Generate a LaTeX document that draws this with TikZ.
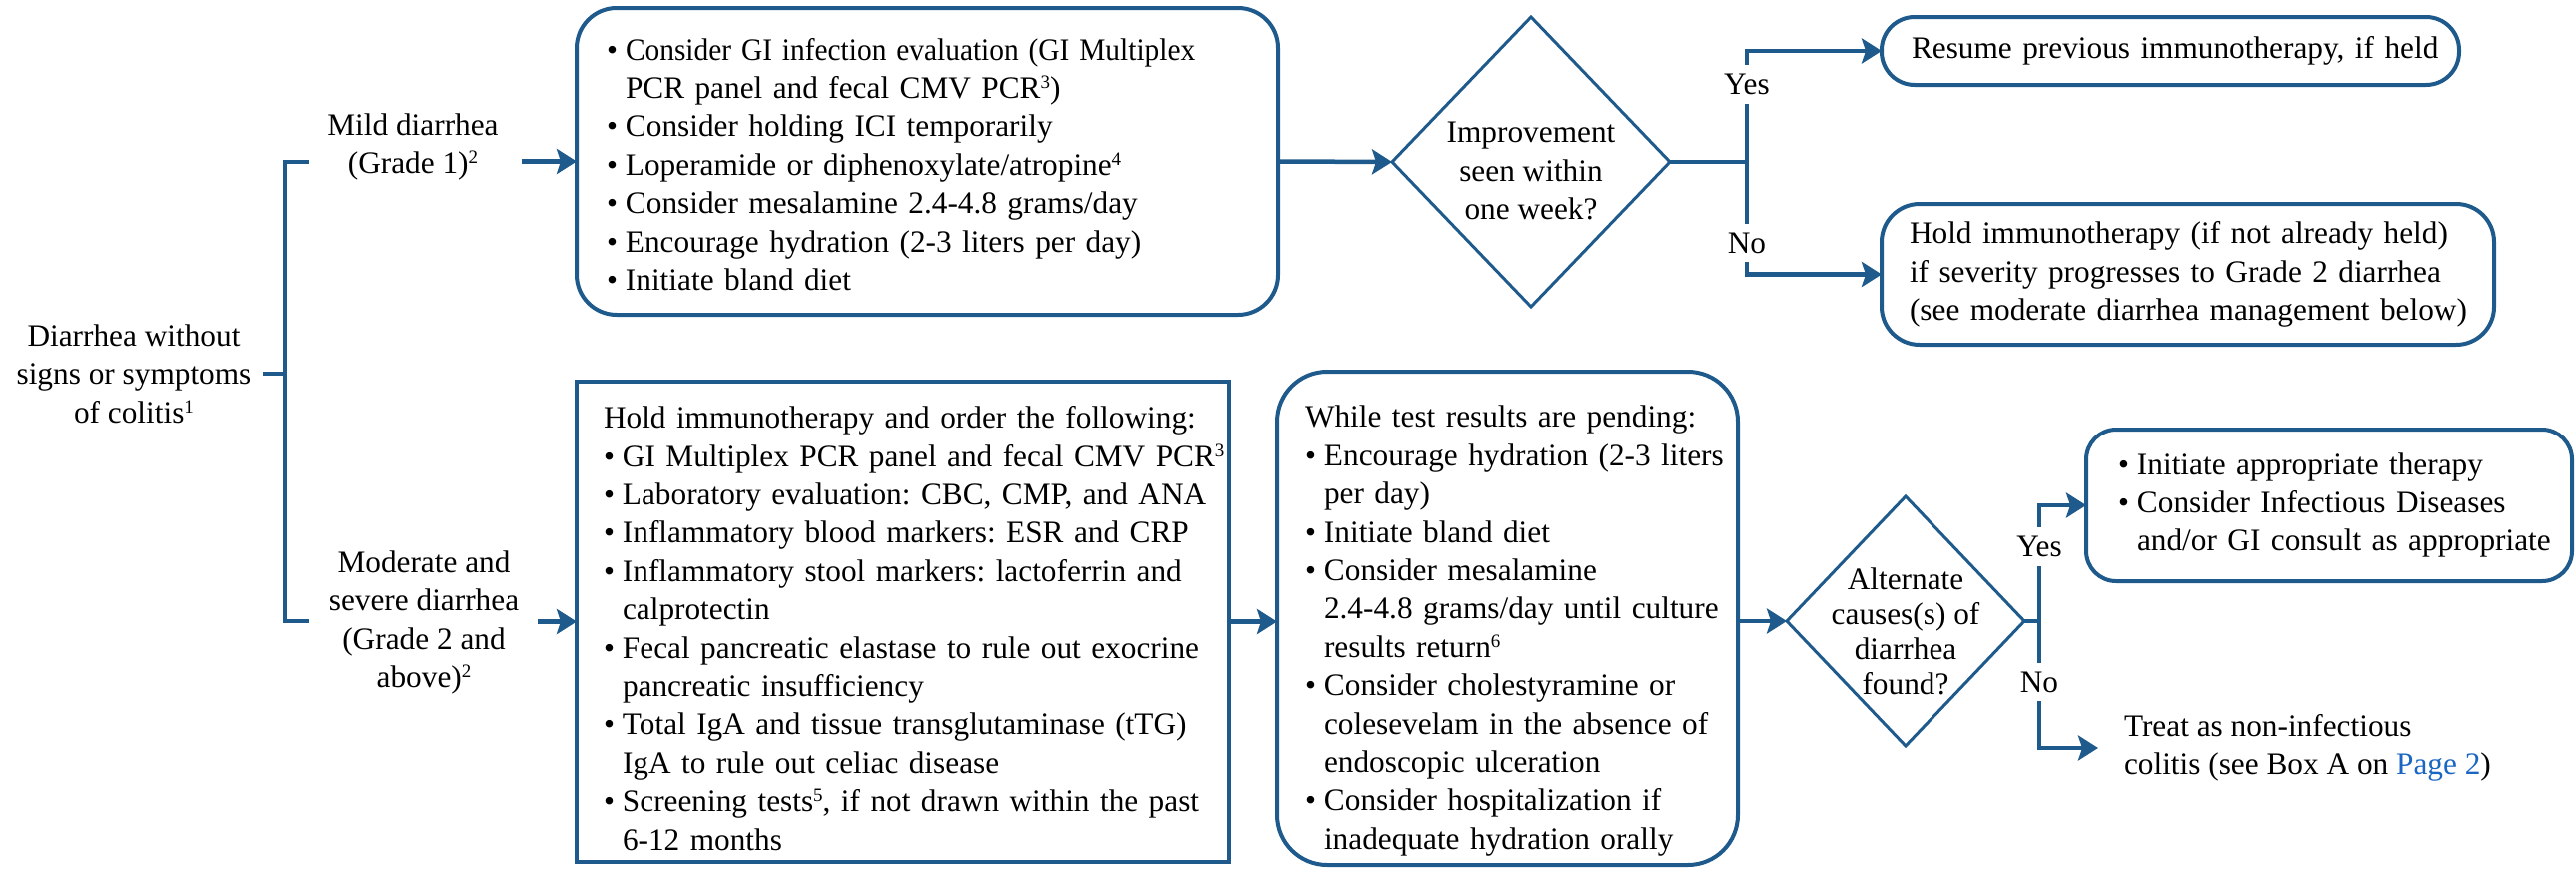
\documentclass[tikz,border=0pt]{standalone}
\usepackage{fontspec}
\setmainfont{Liberation Serif}
\usetikzlibrary{shapes.geometric,arrows.meta}
\setlength{\parindent}{0pt}
\frenchspacing
\definecolor{flowblue}{RGB}{31,90,140}
\definecolor{linkblue}{RGB}{25,103,194}
% bullet lines, continuation lines, plain lines and footnote marks
\newlength{\bulw}\setlength{\bulw}{19pt}
\newcommand{\bl}[1]{\mbox{\makebox[\bulw][l]{\textbullet}#1}}
\newcommand{\cl}[1]{\mbox{\hspace*{\bulw}#1}}
\newcommand{\pl}[1]{\mbox{#1}}
\newcommand{\fn}[1]{\raisebox{10pt}{\fontsize{19}{19}\selectfont #1}}
% extra room above the first line of a box
\newcommand{\tg}[1]{\rule{0pt}{#1}}
\begin{document}
\begin{tikzpicture}[x=1pt,y=-1pt,
  font=\fontsize{31.3}{38.4}\selectfont,
  box/.style={draw=flowblue, line width=4pt, align=left, anchor=north west,
    inner ysep=0pt, outer sep=0pt},
  dia/.style={diamond, draw=flowblue, line width=3pt, inner sep=0pt, outer sep=0pt},
  plain/.style={align=center, inner ysep=0pt, outer sep=0pt},
  conn/.style={draw=flowblue, line width=4.5pt},
  arr/.style={conn, -{Stealth[length=20pt,width=25pt,inset=4pt]}},
  yn/.style={fill=white, inner xsep=2pt, inner ysep=9pt}]
\useasboundingbox (0,0) rectangle (2578,870);

% ---- starting point and severity grades
\node[plain, inner xsep=12pt] (root) at (134,374)
  {Diarrhea without\\signs or symptoms\\of colitis\fn{1}};
\node[plain, inner xsep=23pt] (mildlbl) at (413,147)
  {Mild diarrhea\\(Grade 1)\fn{2}};
\node[plain, inner xsep=19pt] (modlbl) at (424,623.5)
  {Moderate and\\severe diarrhea\\(Grade 2 and\\above)\fn{2}};

% ---- mild branch
\node[box, rounded corners=40pt, inner xsep=30pt, text width=642pt,
  minimum height=307pt] (mild) at (577,8) {%
  \bl{\tg{28pt}\scalebox{0.94}[1]{Consider GI infection evaluation (GI Multiplex}}\\
  \cl{PCR panel and fecal CMV PCR\fn{3})}\\
  \bl{Consider holding ICI temporarily}\\
  \bl{Loperamide or diphenoxylate/atropine\fn{4}}\\
  \bl{Consider mesalamine 2.4-4.8 grams/day}\\
  \bl{Encourage hydration (2-3 liters per day)}\\
  \bl{Initiate bland diet}};

\node[dia, minimum width=278pt, minimum height=290pt] (d1) at (1532,162) {};
\node[plain] (d1t) at (1532,171) {Improvement\\seen within\\one week?};

\node[box, rounded corners=33pt, inner xsep=30pt, text width=518pt,
  minimum height=68pt] (resume) at (1883,17)
  {\pl{Resume previous immunotherapy, if held}};
\node[box, rounded corners=38pt, inner xsep=28pt, text width=557pt,
  minimum height=141pt] (hold) at (1883,204) {%
  \pl{Hold immunotherapy (if not already held)}\\
  \pl{if severity progresses to Grade 2 diarrhea}\\
  \pl{(see moderate diarrhea management below)}};

% ---- moderate / severe branch
\node[box, inner xsep=27pt, text width=599pt, minimum height=481pt]
  (modbox) at (577,382) {%
  \pl{\tg{35pt}Hold immunotherapy and order the following:}\\
  \bl{GI Multiplex PCR panel and fecal CMV PCR\fn{3}}\\
  \bl{Laboratory evaluation: CBC, CMP, and ANA}\\
  \bl{Inflammatory blood markers: ESR and CRP}\\
  \bl{Inflammatory stool markers: lactoferrin and}\\
  \cl{calprotectin}\\
  \bl{Fecal pancreatic elastase to rule out exocrine}\\
  \cl{pancreatic insufficiency}\\
  \bl{Total IgA and tissue transglutaminase (tTG)}\\
  \cl{IgA to rule out celiac disease}\\
  \bl{Screening tests\fn{5}, if not drawn within the past}\\
  \cl{6-12 months}};

\node[box, rounded corners=50pt, inner xsep=28pt, text width=405pt,
  minimum height=494pt] (pending) at (1278,372) {%
  \pl{\tg{47pt}While test results are pending:}\\
  \bl{Encourage hydration (2-3 liters}\\
  \cl{per day)}\\
  \bl{Initiate bland diet}\\
  \bl{Consider mesalamine}\\
  \cl{2.4-4.8 grams/day until culture}\\
  \cl{results return\fn{6}}\\
  \bl{Consider cholestyramine or}\\
  \cl{colesevelam in the absence of}\\
  \cl{endoscopic ulceration}\\
  \bl{Consider hospitalization if}\\
  \cl{inadequate hydration orally}};

\node[dia, minimum width=238pt, minimum height=250pt] (d2) at (1907,622) {};
\node[plain, font=\fontsize{31.3}{35}\selectfont] (d2t) at (1907,632)
  {Alternate\\causes(s) of\\diarrhea\\found?};

\node[box, rounded corners=30pt, inner xsep=32pt, text width=422pt,
  minimum height=152pt] (therapy) at (2088,430) {%
  \bl{Initiate appropriate therapy}\\
  \bl{Consider Infectious Diseases}\\
  \cl{and/or GI consult as appropriate}};

\node[anchor=west, align=left, inner xsep=26pt, inner ysep=0pt, outer sep=0pt]
  (treat) at (2100,749)
  {Treat as non-infectious\\colitis (see Box A on \textcolor{linkblue}{Page 2})};

% ---- connectors
\coordinate (bm) at (285,374);
\coordinate (bt) at (309,162);
\coordinate (bb) at (309,622);
\draw[conn] (root.east) -- (bm);
\draw[conn] (bt) -| (bm) |- (bb);
\draw[arr] (mildlbl.east |- mild.west) -- (mild.west);
\draw[arr] (modlbl.east |- modbox.west) -- (modbox.west);

\draw[arr] (mild.east) -- (d1.west);
\coordinate (s1) at (1748,162);
\draw[conn] (d1.east) -- (s1);
\draw[arr] (s1) |- node[yn, pos=0.35] {Yes} (resume.west);
\draw[arr] (s1) |- node[yn, pos=0.36] {No} (hold.west);

\draw[arr] (modbox.east) -- (modbox.east -| pending.west);
\draw[arr] (pending.east |- d2.west) -- (d2.west);
\coordinate (s2) at (2041,622);
\draw[conn] (d2.east) -- (s2);
\draw[arr] (s2) |- node[yn, pos=0.32] {Yes} (therapy.west);
\draw[arr] (s2) |- node[yn, pos=0.24] {No} (treat.west);
\end{tikzpicture}
\end{document}
